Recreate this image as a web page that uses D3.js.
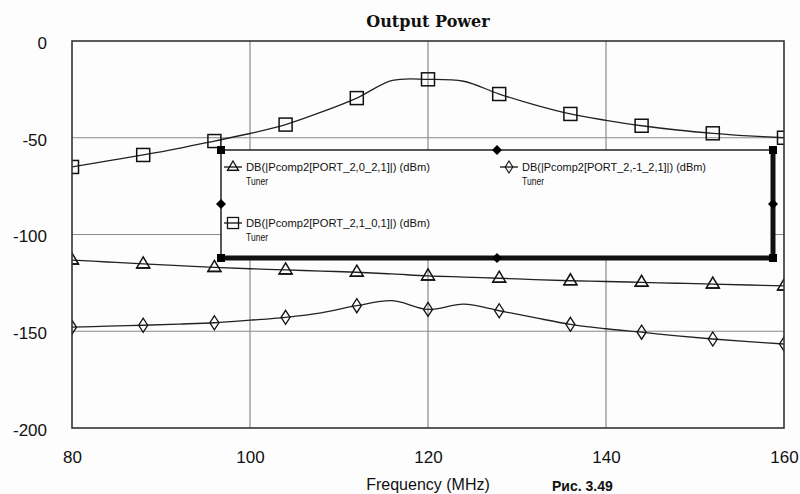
<!DOCTYPE html>
<html>
<head>
<meta charset="utf-8">
<script src="https://cdn.jsdelivr.net/npm/d3@7"></script>
<style>
  body { margin: 0; background: #fdfdfd; }
  text { font-family: Arial, "Liberation Sans", sans-serif; }
</style>
</head>
<body>
<svg id="chart" width="800" height="494"></svg>
<script>
// частоты, МГц (шаг 4)
var freq = [80, 84, 88, 92, 96, 100, 104, 108, 112, 116, 120, 124, 128, 132, 136, 140, 144, 148, 152, 156, 160];
// DB(|Pcomp2[PORT_2,1_0,1]|) - квадраты
var sqVals = [-65.1, -62, -58.9, -55.5, -51.7, -47.8, -43.2, -36.8, -29.5, -20.4, -19.8, -20.8, -27.4, -33, -37.7, -41, -43.8, -46, -47.7, -49, -50];
// DB(|Pcomp2[PORT_2,0_2,1]|) - треугольники
var triVals = [-113.2, -114.2, -115.2, -116.1, -117, -117.7, -118.3, -118.9, -119.5, -120.4, -121.4, -122, -122.6, -123.3, -123.9, -124.3, -124.7, -125.2, -125.6, -126.1, -126.6];
// DB(|Pcomp2[PORT_2,-1_2,1]|) - ромбы
var diaVals = [-147.9, -147.4, -146.9, -146.3, -145.6, -144.3, -142.8, -140.5, -136.8, -134.2, -138.7, -136, -139.4, -143, -146.4, -148.7, -150.5, -152.4, -154, -155.4, -156.6];
var xTicks = [80, 100, 120, 140, 160];
var yTicks = [0, -50, -100, -150, -200];
var legendNames = ["DB(|Pcomp2[PORT_2,0_2,1]|) (dBm)", "DB(|Pcomp2[PORT_2,1_0,1]|) (dBm)", "DB(|Pcomp2[PORT_2,-1_2,1]|) (dBm)"];

// границы области графика
var pLeft = 72, pRight = 784, pTop = 41, pBottom = 428;
var svg = d3.select("#chart");

var x = d3.scaleLinear().domain([80, 160]).range([pLeft, pRight]);
var y = d3.scaleLinear().domain([-200, 0]).range([pBottom, pTop]);

svg.append("defs").append("clipPath").attr("id", "plotClip")
    .append("rect").attr("x", pLeft).attr("y", pTop)
    .attr("width", pRight-pLeft).attr("height", pBottom-pTop);

// сетка
svg.append("g").selectAll("line").data(xTicks.slice(1, -1)).enter().append("line")
    .attr("x1", function(d){return x(d);}).attr("x2", function(d){return x(d);})
    .attr("y1", pTop).attr("y2", pBottom)
    .attr("stroke", "#8a8a8a").attr("stroke-width", 1.2);
svg.append("g").selectAll("line").data(yTicks.slice(1, -1)).enter().append("line")
    .attr("y1", function(d){return y(d);}).attr("y2", function(d){return y(d);})
    .attr("x1", pLeft).attr("x2", pRight)
    .attr("stroke", "#8a8a8a").attr("stroke-width", 1.2);

// подписи осей (обычный дефис, как в оригинале)
var plain = function(d){return String(d);};
var yAxis = d3.axisLeft(y).tickValues(yTicks).tickFormat(plain).tickSize(0).tickPadding(25);
var gy = svg.append("g").attr("transform", "translate(" + pLeft + ",2)").call(yAxis);
gy.select(".domain").remove();
gy.selectAll("text").attr("font-size", 17).attr("fill", "#111")
    .style("font-family", "Arial, 'Liberation Sans', sans-serif");

var xAxis = d3.axisBottom(x).tickValues(xTicks).tickFormat(plain).tickSize(0).tickPadding(23);
var gx = svg.append("g").attr("transform", "translate(0," + pBottom + ")").call(xAxis);
gx.select(".domain").remove();
gx.selectAll("text").attr("font-size", 17).attr("fill", "#111")
    .style("font-family", "Arial, 'Liberation Sans', sans-serif");

svg.append("text").attr("x", 428).attr("y", 490).attr("text-anchor", "middle")
    .attr("font-size", 16).attr("fill", "#111").text("Frequency (MHz)");
svg.append("text").attr("x", 552).attr("y", 491)
    .attr("font-size", 14).attr("font-weight", "bold").attr("fill", "#111").text("Рис. 3.49");

svg.append("text").attr("x", 428).attr("y", 27).attr("text-anchor", "middle")
    .style("font-family", "'DejaVu Serif', serif").attr("font-weight", "bold")
    .attr("font-size", 16).attr("fill", "#111").text("Output Power");

// кривые
var line = d3.line()
    .x(function(d){return x(d[0]);})
    .y(function(d){return y(d[1]);})
    .curve(d3.curveCatmullRom.alpha(0.5));

var series = [
    {vals: triVals, marker: "tri"},
    {vals: sqVals, marker: "sq"},
    {vals: diaVals, marker: "dia"}
];

var plot = svg.append("g").attr("clip-path", "url(#plotClip)");

function drawMarker(g, type, cx, cy) {
    if (type == "sq") {
        g.append("rect").attr("x", cx-6.5).attr("y", cy-6.5).attr("width", 13).attr("height", 13)
        .attr("fill", "none").attr("stroke", "#111").attr("stroke-width", 1.5);
    } else if (type == "tri") {
        g.append("path").attr("d", "M" + cx + " " + (cy-7) + " L" + (cx+6.5) + " " + (cy+4) + " L" + (cx-6.5) + " " + (cy+4) + " Z")
        .attr("fill", "none").attr("stroke", "#111").attr("stroke-width", 1.5);
        g.append("line").attr("x1", cx-7).attr("x2", cx+7).attr("y1", cy+4).attr("y2", cy+4)
        .attr("stroke", "#111").attr("stroke-width", 1.5);
    } else {
        g.append("path").attr("d", "M" + cx + " " + (cy-7) + " L" + (cx+4.5) + " " + cy + " L" + cx + " " + (cy+7) + " L" + (cx-4.5) + " " + cy + " Z")
        .attr("fill", "none").attr("stroke", "#111").attr("stroke-width", 1.3);
    }
}

series.forEach(function(s) {
    var pts = freq.map(function(f, i){return [f, s.vals[i]];});
    plot.append("path").attr("d", line(pts))
        .attr("fill", "none").attr("stroke", "#222").attr("stroke-width", 1.3);
    pts.forEach(function(p, i) {
        if (i % 2 == 0)
            drawMarker(plot, s.marker, x(p[0]), y(p[1]));
    });
});

// рамка графика
svg.append("rect").attr("x", pLeft).attr("y", pTop).attr("width", pRight-pLeft).attr("height", pBottom-pTop)
    .attr("fill", "none").attr("stroke", "#333").attr("stroke-width", 1.6);

// легенда
var lx1 = 221, lx2 = 773, ly1 = 150, ly2 = 258;
var leg = svg.append("g");
leg.append("rect").attr("x", lx1).attr("y", ly1).attr("width", lx2-lx1).attr("height", ly2-ly1)
    .attr("fill", "#fdfdfd").attr("stroke", "#111").attr("stroke-width", 1.4);
leg.append("line").attr("x1", lx1).attr("x2", lx2).attr("y1", ly2).attr("y2", ly2)
    .attr("stroke", "#111").attr("stroke-width", 5);
leg.append("line").attr("x1", lx2).attr("x2", lx2).attr("y1", ly1).attr("y2", ly2)
    .attr("stroke", "#111").attr("stroke-width", 5);
[[lx1, ly1], [lx2, ly1], [lx1, ly2], [lx2, ly2]].forEach(function(c) {
    leg.append("rect").attr("x", c[0]-4).attr("y", c[1]-4).attr("width", 8).attr("height", 8).attr("fill", "#000");
});
var mx = (lx1+lx2)/2, my = (ly1+ly2)/2;
[[mx, ly1], [mx, ly2], [lx1, my], [lx2, my]].forEach(function(c) {
    leg.append("path").attr("d", "M" + c[0] + " " + (c[1]-5) + " L" + (c[0]+5) + " " + c[1] + " L" + c[0] + " " + (c[1]+5) + " L" + (c[0]-5) + " " + c[1] + " Z")
        .attr("fill", "#000");
});

var legItems = [
    {name: legendNames[0], marker: "tri", x: 233, y: 167},
    {name: legendNames[1], marker: "sq", x: 233, y: 223},
    {name: legendNames[2], marker: "dia", x: 509, y: 167}
];
legItems.forEach(function(it) {
    leg.append("line").attr("x1", it.x-9).attr("x2", it.x+9).attr("y1", it.y).attr("y2", it.y)
        .attr("stroke", "#111").attr("stroke-width", 1.3);
    var g = leg.append("g").attr("transform", "translate(" + it.x + "," + it.y + ") scale(0.85) translate(" + (-it.x) + "," + (-it.y) + ")");
    drawMarker(g, it.marker, it.x, it.y);
    leg.append("text").attr("x", it.x+13).attr("y", it.y+4)
        .attr("font-size", 10.5).attr("fill", "#111")
        .attr("textLength", 184).attr("lengthAdjust", "spacingAndGlyphs")
        .text(it.name);
    leg.append("text").attr("x", it.x+13).attr("y", it.y+18)
        .attr("font-size", 10.5).attr("fill", "#111")
        .attr("textLength", 22).attr("lengthAdjust", "spacingAndGlyphs")
        .text("Tuner");
});
</script>
</body>
</html>
